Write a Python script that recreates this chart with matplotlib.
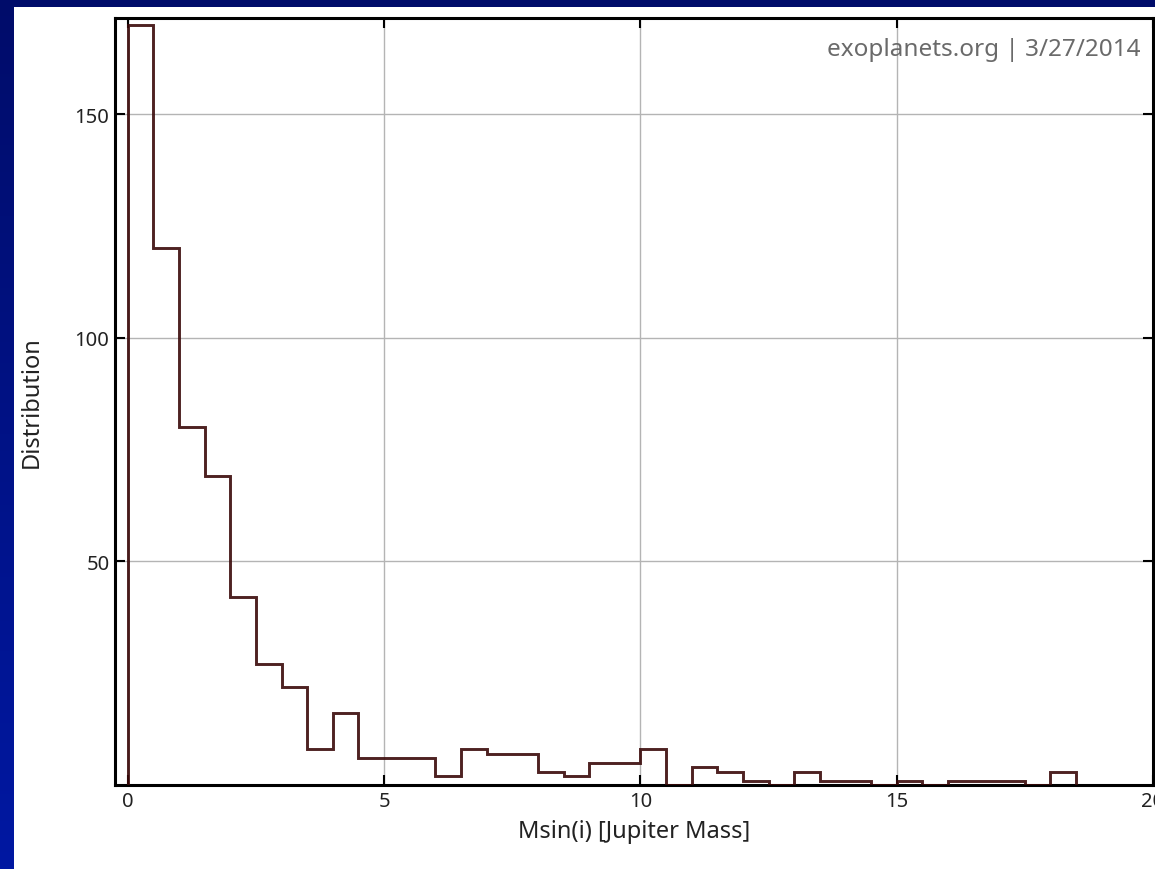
"""
Exoplanet Msin(i) histogram (exoplanets.org, 3/27/2014)
Output: out.png
"""
import numpy as np
import matplotlib
matplotlib.use("Agg")
import matplotlib.pyplot as plt
from matplotlib.patches import Rectangle

# bin edges in Jupiter masses (0.5 M_J bins)
bin_edges = [0.0, 0.5, 1.0, 1.5, 2.0, 2.5, 3.0, 3.5, 4.0, 4.5, 5.0, 5.5, 6.0,
             6.5, 7.0, 7.5, 8.0, 8.5, 9.0, 9.5, 10.0, 10.5, 11.0, 11.5, 12.0,
             12.5, 13.0, 13.5, 14.0, 14.5, 15.0, 15.5, 16.0, 16.5, 17.0, 17.5,
             18.0, 18.5]
counts = [170, 120, 80, 69, 42, 27, 22, 8, 16, 6, 6, 6, 2, 8, 7, 7, 3, 2,
          5, 5, 8, 0, 4, 3, 1, 0, 3, 1, 1, 0, 1, 0, 1, 1, 1, 0, 3]

x_ticks = [0, 5, 10, 15, 20]
y_ticks = [50, 100, 150]

W, H = 1155, 870
FONT = "Noto Sans"

fig = plt.figure(figsize=(W / 100, H / 100), dpi=100)

# ── slide background: blue gradient with white panel ─────────────────────────
bg = fig.add_axes([0, 0, 1, 1], zorder=-10)
grad = np.linspace(0, 1, 256).reshape(-1, 1)
bg_cmap = matplotlib.colors.LinearSegmentedColormap.from_list(
    "slide", ["#000c6a", "#0018a2"])
bg.imshow(grad, cmap=bg_cmap, aspect="auto", extent=[0, 1, 0, 1],
          origin="upper")
bg.add_patch(Rectangle((14 / W, 0), 1 - 14 / W, 1 - 8 / H,
                       facecolor="white", edgecolor="none"))
bg.set_xlim(0, 1); bg.set_ylim(0, 1)
bg.axis("off")

# ── histogram panel ──────────────────────────────────────────────────────────
ax = fig.add_axes([115 / W, 1 - 786 / H, (1153 - 115) / W, (786 - 19) / H])
ax.set_facecolor("white")
ax.stairs(counts, bin_edges, baseline=0, color="#3b0a0a", lw=2.1,
          alpha=0.9, zorder=3)

ax.set_xlim(-0.25, 20)
ax.set_ylim(0, 171.5)
ax.set_xticks(x_ticks)
ax.set_yticks(y_ticks)
ax.grid(True, color="#b4b4b4", lw=1.0)
ax.set_axisbelow(True)

for sp in ax.spines.values():
    sp.set_color("black"); sp.set_linewidth(2.2)
ax.tick_params(direction="in", length=7, width=1.5, top=True, right=True,
               labelsize=14.5, colors="black", labelcolor="#222")
ax.tick_params(axis="x", pad=4)
ax.tick_params(axis="y", pad=4)
for lbl in ax.get_xticklabels() + ax.get_yticklabels():
    lbl.set_fontfamily(FONT)

ax.set_xlabel("Msin(i) [Jupiter Mass]", fontsize=17, family=FONT,
              color="#222", labelpad=6)
ax.set_ylabel("Distribution", fontsize=17, family=FONT, color="#222",
              labelpad=22)

ax.text(0.988, 0.96, "exoplanets.org | 3/27/2014", transform=ax.transAxes,
        ha="right", va="center", fontsize=17.5, family=FONT, color="#6a6a6a")

fig.savefig("out.png", dpi=100, facecolor=fig.get_facecolor())
plt.close(fig)
